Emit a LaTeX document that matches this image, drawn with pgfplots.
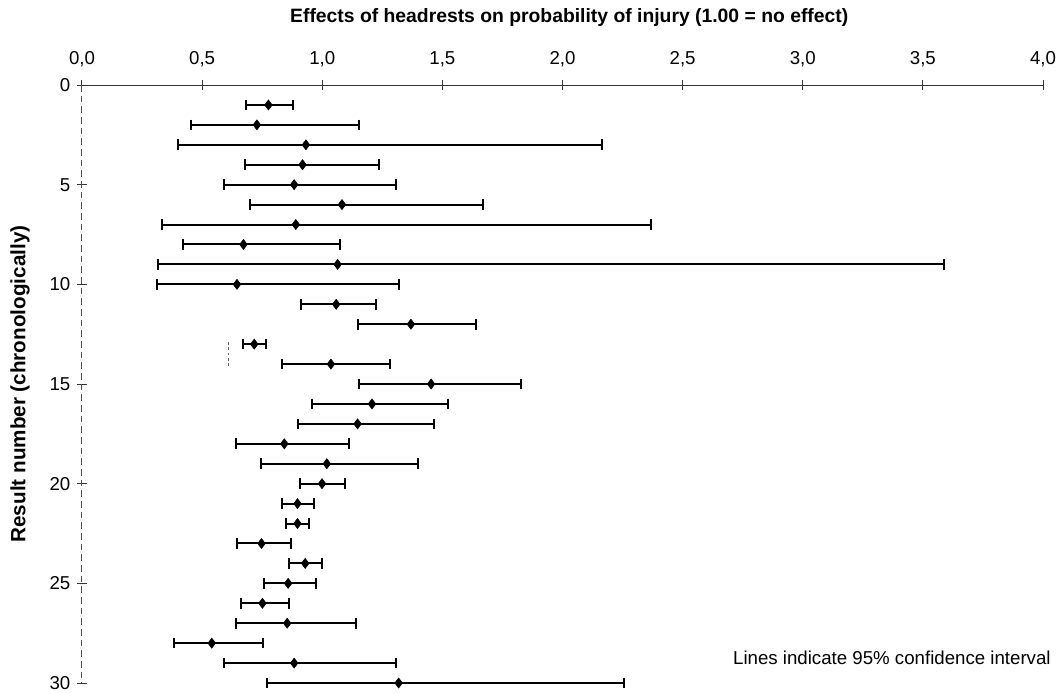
\documentclass[border=0pt]{standalone}
\usepackage{fontspec}
\setmainfont{Liberation Sans}
\usepackage{pgfplots}
\usepackage{pgfplotstable}
\pgfplotsset{compat=1.18}

% estimate, lower and upper 95% limits for each result
\pgfplotstableread{
n  est    lo     hi
1  0.776  0.682  0.880
2  0.728  0.454  1.155
3  0.932  0.401  2.166
4  0.918  0.679  1.235
5  0.883  0.593  1.307
6  1.082  0.700  1.668
7  0.890  0.335  2.369
8  0.672  0.422  1.072
9  1.064  0.315  3.588
10 0.645  0.311  1.318
11 1.058  0.913  1.224
12 1.369  1.147  1.638
13 0.717  0.672  0.765
14 1.036  0.832  1.283
15 1.453  1.154  1.828
16 1.207  0.957  1.522
17 1.147  0.897  1.464
18 0.842  0.640  1.110
19 1.019  0.743  1.399
20 0.999  0.907  1.096
21 0.897  0.832  0.967
22 0.897  0.850  0.946
23 0.747  0.647  0.869
24 0.929  0.860  1.001
25 0.858  0.757  0.972
26 0.751  0.663  0.860
27 0.854  0.639  1.142
28 0.540  0.385  0.753
29 0.883  0.589  1.308
30 1.318  0.770  2.258
}\results

\begin{document}
\begin{tikzpicture}
\begin{axis}[
  at={(0,0)}, anchor=south west,
  scale only axis,
  width=720.75pt, height=448.5pt,
  xmin=0, xmax=4, ymin=0, ymax=30,
  y dir=reverse,
  axis x line*=top,
  axis y line*=left,
  x axis line style={-, line width=0.75pt, black!80},
  y axis line style={-, line width=0.75pt, black!70, dash pattern=on 5pt off 3pt},
  xtick={0,0.5,...,4},
  ytick={0,5,...,30},
  tick align=center,
  major tick length=7.5pt,
  tick style={black!80, line width=0.75pt},
  /pgf/number format/assume math mode=true,
  xticklabel={\pgfmathprintnumber[fixed, fixed zerofill, precision=1, use comma]{\tick}},
  yticklabel={\pgfmathprintnumber[fixed, precision=0]{\tick}},
  tick label style={font=\fontsize{14}{16}\selectfont},
  xticklabel style={yshift=6pt},
  yticklabel style={xshift=-1.5pt},
  ylabel={\bfseries Result number (chronologically)},
  ylabel style={font=\fontsize{15.5}{18}\selectfont, at={(axis description cs:-0.0645,0.5)}, anchor=center},
  title={\bfseries Effects of headrests on probability of injury (1.00 = no effect)},
  title style={font=\fontsize{14.5}{17}\selectfont, at={(axis description cs:0.507,1)}, yshift=45pt, anchor=center},
  clip=false,
]
% confidence intervals
\addplot[
  black, only marks, mark=none,
  error bars/.cd,
    x dir=both, x explicit,
    error bar style={line width=1.5pt},
    error mark=none,
] table[
  x=est, y=n,
  x error plus expr=\thisrow{hi}-\thisrow{est},
  x error minus expr=\thisrow{est}-\thisrow{lo},
] {\results};
% end caps of the intervals
\addplot[black, only marks, mark=|, mark size=4pt, mark options={line width=1.5pt}]
  table[x=lo, y=n] {\results};
\addplot[black, only marks, mark=|, mark size=4pt, mark options={line width=1.5pt}]
  table[x=hi, y=n] {\results};
% point estimates
\addplot[black, only marks, mark=diamond*, mark size=3.8pt]
  table[x=est, y=n] {\results};

\draw[black!60, line width=0.5pt, dash pattern=on 2pt off 2pt]
  (axis cs:0.61,12.9) -- (axis cs:0.61,14.2);

\node[anchor=east, font=\fontsize{14}{16}\selectfont, inner sep=0pt]
  at (axis cs:4.033,28.75) {Lines indicate 95\% confidence interval};
\end{axis}
\pgfresetboundingbox
\path[use as bounding box] (-61.5pt,-7.5pt) rectangle (732.75pt,512.25pt);
\end{tikzpicture}
\end{document}
